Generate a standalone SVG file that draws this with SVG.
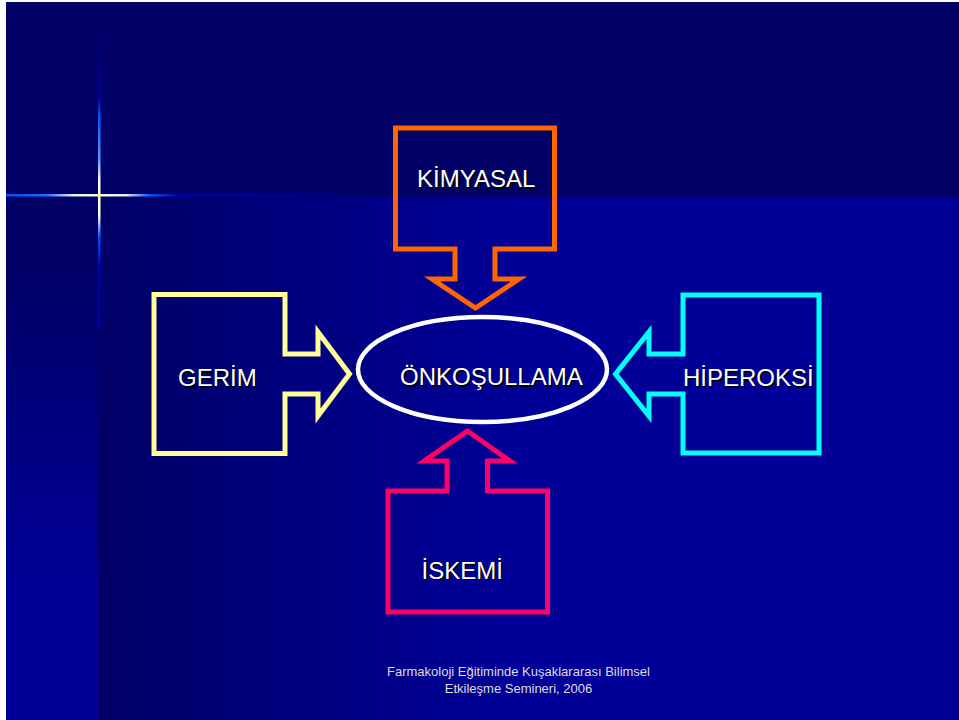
<svg xmlns="http://www.w3.org/2000/svg" width="959" height="720" viewBox="0 0 959 720">
  <defs>
    <linearGradient id="mainBg" gradientUnits="userSpaceOnUse" x1="98" y1="0" x2="520" y2="0">
      <stop offset="0" stop-color="#000066"/>
      <stop offset="1" stop-color="#000099"/>
    </linearGradient>
    <linearGradient id="leftBg" gradientUnits="userSpaceOnUse" x1="0" y1="260" x2="0" y2="600">
      <stop offset="0" stop-color="#000066"/>
      <stop offset="1" stop-color="#000099"/>
    </linearGradient>
    <linearGradient id="hGlow" gradientUnits="userSpaceOnUse" x1="6" y1="0" x2="340" y2="0">
      <stop offset="0" stop-color="#0050F0"/>
      <stop offset="0.12" stop-color="#1a6cff"/>
      <stop offset="0.2" stop-color="#ddeeff"/>
      <stop offset="0.276" stop-color="#FFFFCC"/>
      <stop offset="0.36" stop-color="#ddeeff"/>
      <stop offset="0.43" stop-color="#0055FF"/>
      <stop offset="0.52" stop-color="#0000AA"/>
      <stop offset="1" stop-color="#000088"/>
    </linearGradient>
    <linearGradient id="vGlow" gradientUnits="userSpaceOnUse" x1="0" y1="20" x2="0" y2="330">
      <stop offset="0" stop-color="#000066"/>
      <stop offset="0.25" stop-color="#000099"/>
      <stop offset="0.31" stop-color="#0055FF"/>
      <stop offset="0.45" stop-color="#5599ff"/>
      <stop offset="0.52" stop-color="#ffffff"/>
      <stop offset="0.565" stop-color="#FFFFCC"/>
      <stop offset="0.63" stop-color="#ffffff"/>
      <stop offset="0.7" stop-color="#0055FF"/>
      <stop offset="0.8" stop-color="#0000AA"/>
      <stop offset="1" stop-color="#000099"/>
    </linearGradient>
  </defs>
  <style>
    .callout { fill: none; stroke-width: 5; stroke-linejoin: miter; }
    .lbl { font-family: "Liberation Sans", Arial, sans-serif; font-size: 24px; fill: #ffffff; }
    .shadow { font-family: "Liberation Sans", Arial, sans-serif; font-size: 24px; fill: #000000; }
    .foot { font-family: "Liberation Sans", Arial, sans-serif; font-size: 13px; fill: #dddddd; text-anchor: middle; }
  </style>

  <!-- background -->
  <rect x="0" y="0" width="959" height="720" fill="#ffffff"/>
  <rect x="6" y="2" width="953" height="718" fill="#000066"/>
  <rect x="98" y="197" width="861" height="523" fill="url(#mainBg)"/>
  <rect x="6" y="197" width="92" height="523" fill="url(#leftBg)"/>
  <rect x="6" y="194" width="334" height="2.5" fill="url(#hGlow)"/>
  <rect x="98" y="20" width="2.5" height="310" fill="url(#vGlow)"/>

  <g id="connectors"></g>

  <g id="kimyasal">
    <path class="callout" stroke="#FF6600" d="M395.5,128 H554.5 V249 H495 V279 H519 L475.5,308 L432,279 H455 V249 H395.5 Z"/>
    <text class="shadow" x="418.5" y="188.5">KİMYASAL</text>
    <text class="lbl" x="417" y="187">KİMYASAL</text>
  </g>

  <g id="gerim">
    <path class="callout" stroke="#FFFF99" d="M154,294.5 H285 V354 H318 V332 L349.5,374 L318,416 V394 H285 V453.5 H154 Z"/>
    <text class="shadow" x="179.5" y="387.5">GERİM</text>
    <text class="lbl" x="178" y="386">GERİM</text>
  </g>

  <g id="hiperoksi">
    <path class="callout" stroke="#00FFFF" d="M819,295 H683 V354 H649 V332 L615.5,374 L649,416 V394 H683 V453 H819 Z"/>
    <text class="shadow" x="684.5" y="387.5">HİPEROKSİ</text>
    <text class="lbl" x="683" y="386">HİPEROKSİ</text>
  </g>

  <g id="iskemi">
    <path class="callout" stroke="#FF0066" d="M388,612 H547.5 V491 H487.5 V461 H510 L467.5,431 L424,461 H447 V491 H388 Z"/>
    <text class="shadow" x="423" y="580">İSKEMİ</text>
    <text class="lbl" x="421.5" y="578.5">İSKEMİ</text>
  </g>

  <g id="onkosullama">
    <ellipse cx="482.5" cy="369.5" rx="124.5" ry="52.5" fill="none" stroke="#ffffff" stroke-width="4.5"/>
    <text class="shadow" x="401.5" y="386.5">ÖNKOŞULLAMA</text>
    <text class="lbl" x="400" y="385">ÖNKOŞULLAMA</text>
  </g>

  <g id="footer">
    <text class="foot" x="518.5" y="676">Farmakoloji Eğitiminde Kuşaklararası Bilimsel</text>
    <text class="foot" x="518.5" y="693">Etkileşme Semineri, 2006</text>
  </g>
</svg>
